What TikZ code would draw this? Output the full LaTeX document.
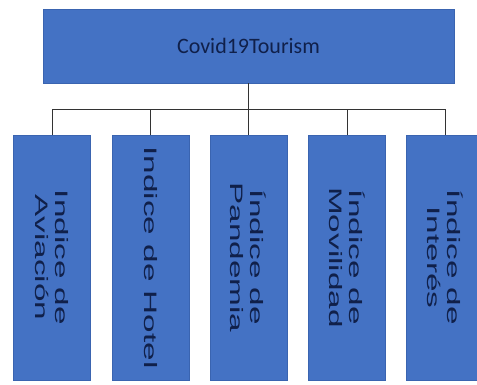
\documentclass[tikz,border=0pt]{standalone}
\usepackage{fontspec}
\setmainfont{Liberation Sans}
\newfontfamily\calibrifont{Carlito}
\usepackage{graphicx}
\definecolor{boxblue}{HTML}{4472C4}
\definecolor{boxedge}{HTML}{3A64B0}
\definecolor{textnavy}{HTML}{10204A}
\newcommand{\wide}[1]{\scalebox{1.85}[1]{#1}}

\begin{document}
\begin{tikzpicture}[x=1pt,y=1pt,
  topbox/.style={fill=boxblue,draw=boxedge,line width=0.6pt,minimum width=411pt,minimum height=74pt,
    text=textnavy,font=\calibrifont\fontsize{22}{26}\selectfont},
  leafbox/.style={fill=boxblue,draw=boxedge,line width=0.6pt,minimum width=77pt,minimum height=245pt},
  leaftext/.style={rotate=-90,text=textnavy,align=center,font=\fontsize{18}{20}\selectfont},
  link/.style={draw=black!80,line width=0.8pt}]
  \useasboundingbox (0,0) rectangle (477,385);
  \clip (0,0) rectangle (477,385);
  \node[topbox] (root) at (248.5,339) {Covid19Tourism};
  % second level
  \node[leafbox] (avia) at (52,127.5) {};
  \node[leafbox] (hotel) at (150.5,127.5) {};
  \node[leafbox] (pand) at (248.5,127.5) {};
  \node[leafbox] (movi) at (347,127.5) {};
  \node[leafbox] (inter) at (445,127.5) {};
  \node[leaftext] at (avia) {\wide{Indice de}\\\wide{Aviación}};
  \node[leaftext] at (hotel) {\wide{Indice de Hotel}};
  \node[leaftext] at (pand) {\wide{Índice de}\\\wide{Pandemia}};
  \node[leaftext] at (movi) {\wide{Índice de}\\\wide{Movilidad}};
  \node[leaftext] at (inter) {\wide{Índice de}\\\wide{Interés}};
  % connectors
  \foreach \leaf in {avia,hotel,pand,movi,inter}
    \draw[link] (root.south) -- +(0,-26) -| (\leaf.north);
\end{tikzpicture}
\end{document}
